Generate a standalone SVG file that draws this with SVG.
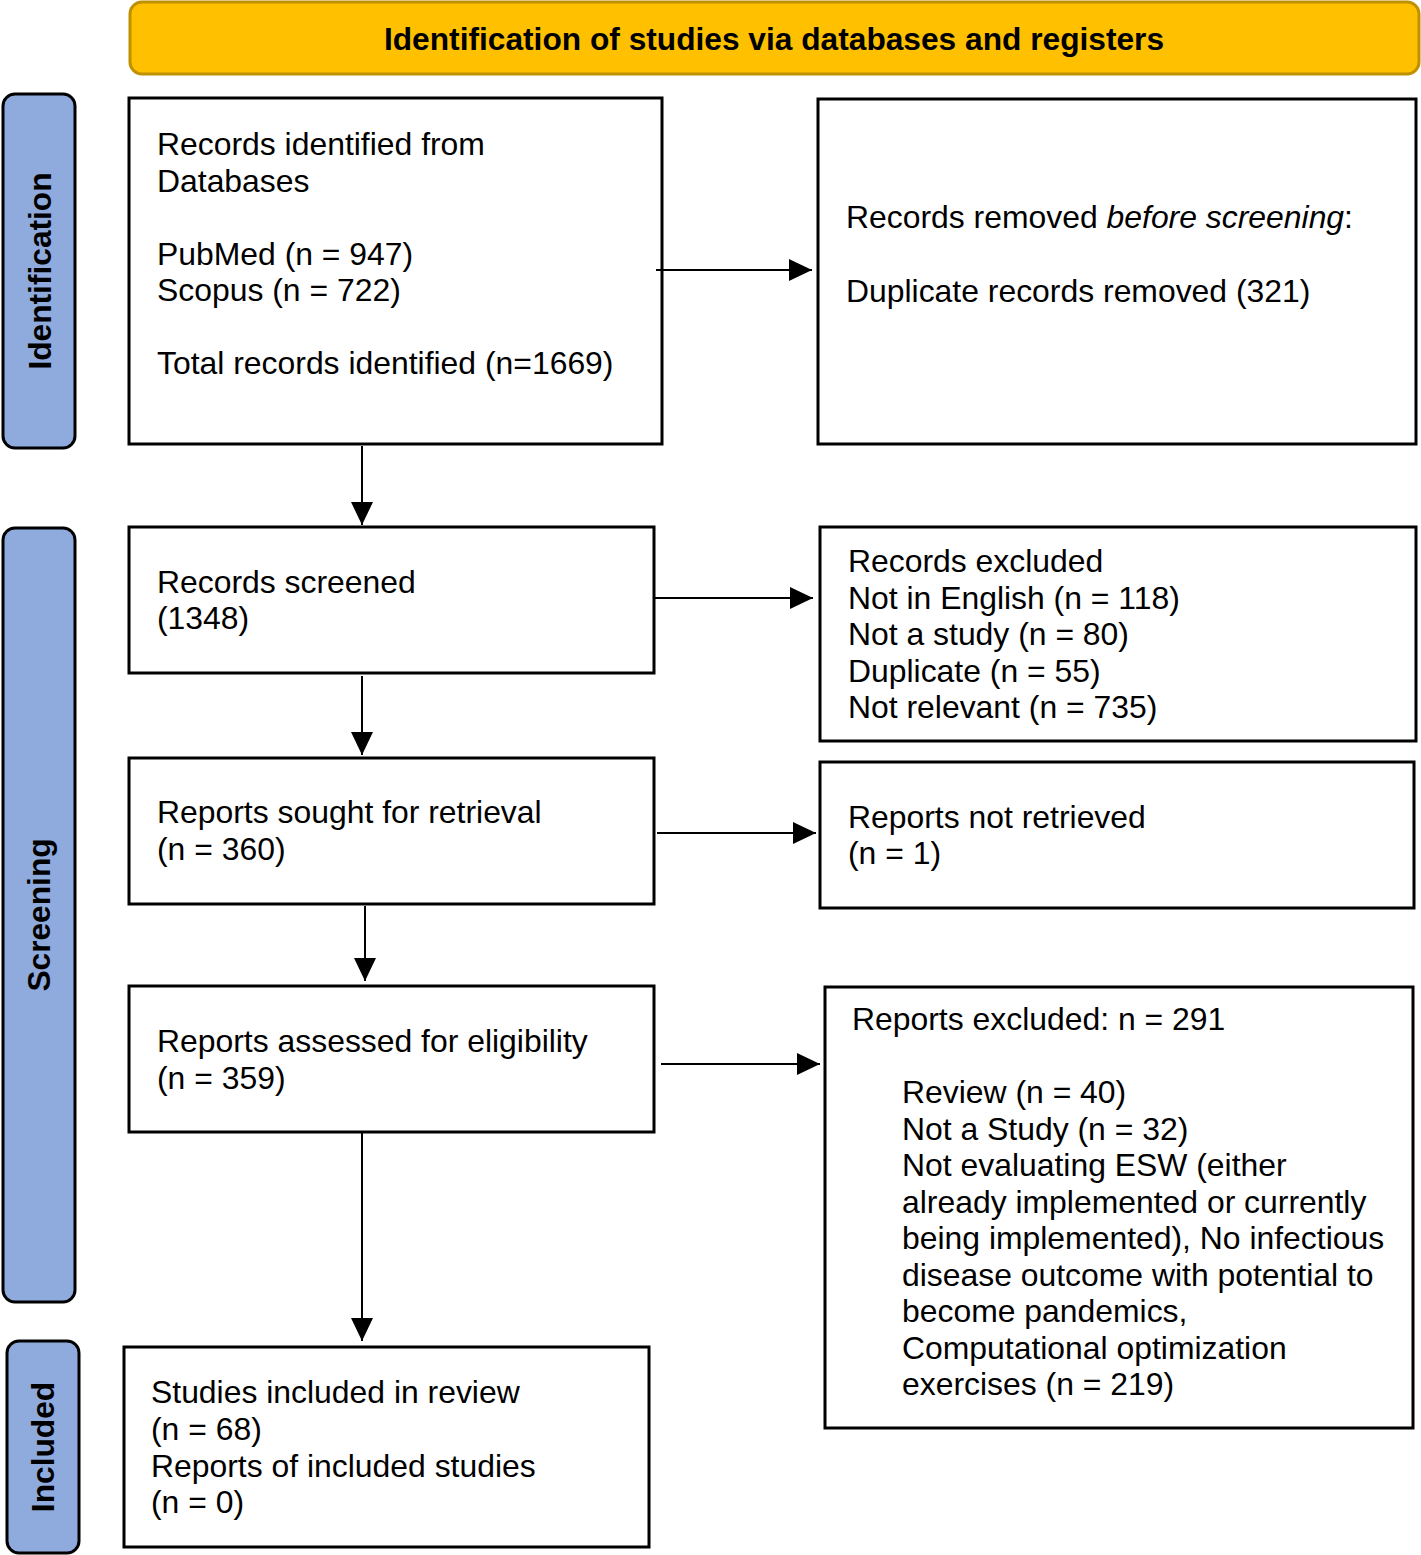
<svg xmlns="http://www.w3.org/2000/svg" width="1421" height="1555" viewBox="0 0 1421 1555">
<style>
.box{fill:#fff;stroke:#000;stroke-width:3}
.side{fill:#8FAADC;stroke:#000;stroke-width:3}
.t{font-family:"Liberation Sans",Arial,sans-serif;font-size:31.9px;fill:#000}
.b{font-family:"Liberation Sans",Arial,sans-serif;font-size:31.7px;font-weight:bold;fill:#000}
.c{stroke:#000;stroke-width:2;fill:none}
</style>
<defs>
<marker id="ah" markerUnits="userSpaceOnUse" markerWidth="24" markerHeight="22" refX="23" refY="11" orient="auto">
<path d="M0,0 L23,11 L0,22 Z" fill="#000"/>
</marker>
</defs>
<rect width="1421" height="1555" fill="#fff"/>
<g id="header">
<rect x="130" y="2" width="1289" height="72" rx="12" fill="#FFC000" stroke="#BF9000" stroke-width="3"/>
<text class="b" x="774" y="50" text-anchor="middle">Identification of studies via databases and registers</text>
</g>
<g id="side-identification">
<rect class="side" x="3" y="94" width="72" height="354" rx="12"/>
<text class="b" transform="translate(51,271) rotate(-90)" text-anchor="middle">Identification</text>
</g>
<g id="side-screening">
<rect class="side" x="3" y="528" width="72" height="774" rx="12"/>
<text class="b" transform="translate(50,915) rotate(-90)" text-anchor="middle">Screening</text>
</g>
<g id="side-included">
<rect class="side" x="7" y="1341" width="72" height="212" rx="12"/>
<text class="b" transform="translate(54,1447) rotate(-90)" text-anchor="middle">Included</text>
</g>
<g id="records-identified">
<rect class="box" x="129" y="98" width="533" height="346"/>
<text class="t" x="157" y="155">Records identified from</text>
<text class="t" x="157" y="192">Databases</text>
<text class="t" x="157" y="265">PubMed (n = 947)</text>
<text class="t" x="157" y="301">Scopus (n = 722)</text>
<text class="t" x="157" y="374">Total records identified (n=1669)</text>
</g>
<g id="records-removed">
<rect class="box" x="818" y="99" width="598" height="345"/>
<text class="t" x="846" y="228">Records removed <tspan font-style="italic">before screening</tspan>:</text>
<text class="t" x="846" y="302">Duplicate records removed (321)</text>
</g>
<g id="records-screened">
<rect class="box" x="129" y="527" width="525" height="146"/>
<text class="t" x="157" y="593">Records screened</text>
<text class="t" x="157" y="629">(1348)</text>
</g>
<g id="records-excluded">
<rect class="box" x="820" y="527" width="596" height="214"/>
<text class="t" x="848" y="572">Records excluded</text>
<text class="t" x="848" y="609">Not in English (n = 118)</text>
<text class="t" x="848" y="645">Not a study (n = 80)</text>
<text class="t" x="848" y="682">Duplicate (n = 55)</text>
<text class="t" x="848" y="718">Not relevant (n = 735)</text>
</g>
<g id="reports-sought">
<rect class="box" x="129" y="758" width="525" height="146"/>
<text class="t" x="157" y="823">Reports sought for retrieval</text>
<text class="t" x="157" y="860">(n = 360)</text>
</g>
<g id="reports-not-retrieved">
<rect class="box" x="820" y="762" width="594" height="146"/>
<text class="t" x="848" y="828">Reports not retrieved</text>
<text class="t" x="848" y="864">(n = 1)</text>
</g>
<g id="reports-assessed">
<rect class="box" x="129" y="986" width="525" height="146"/>
<text class="t" x="157" y="1052">Reports assessed for eligibility</text>
<text class="t" x="157" y="1089">(n = 359)</text>
</g>
<g id="reports-excluded">
<rect class="box" x="825" y="987" width="588" height="441"/>
<text class="t" x="852" y="1030">Reports excluded: n = 291</text>
<text class="t" x="902" y="1103">Review (n = 40)</text>
<text class="t" x="902" y="1140">Not a Study (n = 32)</text>
<text class="t" x="902" y="1176">Not evaluating ESW (either</text>
<text class="t" x="902" y="1213">already implemented or currently</text>
<text class="t" x="902" y="1249">being implemented), No infectious</text>
<text class="t" x="902" y="1286">disease outcome with potential to</text>
<text class="t" x="902" y="1322">become pandemics,</text>
<text class="t" x="902" y="1359">Computational optimization</text>
<text class="t" x="902" y="1395">exercises (n = 219)</text>
</g>
<g id="studies-included">
<rect class="box" x="124" y="1347" width="525" height="200"/>
<text class="t" x="151" y="1403">Studies included in review</text>
<text class="t" x="151" y="1440">(n = 68)</text>
<text class="t" x="151" y="1477">Reports of included studies</text>
<text class="t" x="151" y="1513">(n = 0)</text>
</g>
<g id="connectors">
<line class="c" x1="362" y1="446" x2="362" y2="525" marker-end="url(#ah)"/>
<line class="c" x1="362" y1="676" x2="362" y2="755" marker-end="url(#ah)"/>
<line class="c" x1="365" y1="906" x2="365" y2="981" marker-end="url(#ah)"/>
<line class="c" x1="362" y1="1133" x2="362" y2="1341" marker-end="url(#ah)"/>
<line class="c" x1="656" y1="270" x2="812" y2="270" marker-end="url(#ah)"/>
<line class="c" x1="654" y1="598" x2="813" y2="598" marker-end="url(#ah)"/>
<line class="c" x1="657" y1="833" x2="816" y2="833" marker-end="url(#ah)"/>
<line class="c" x1="661" y1="1064" x2="820" y2="1064" marker-end="url(#ah)"/>
</g>
</svg>
